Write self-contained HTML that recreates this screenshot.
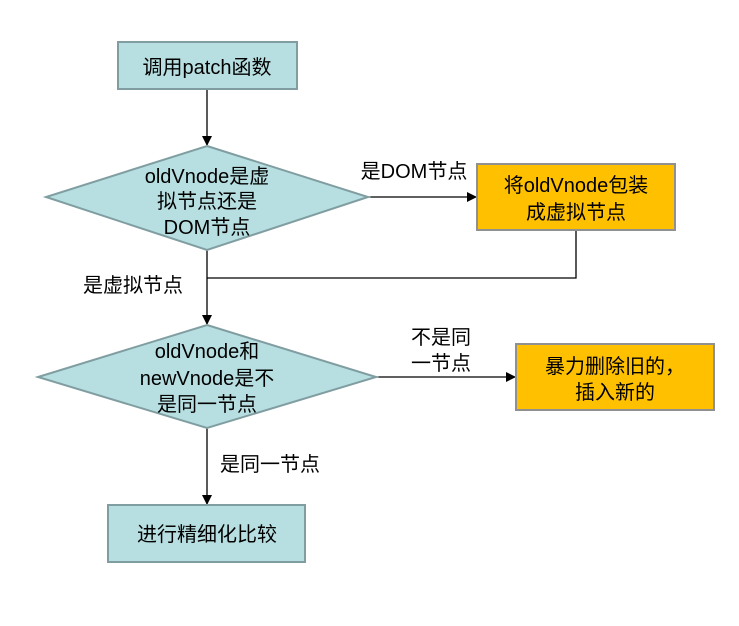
<!DOCTYPE html>
<html><head><meta charset="utf-8"><style>
body{margin:0;background:#fff;}
svg text{font-family:"Liberation Sans","Noto Sans CJK SC",sans-serif;font-size:20px;fill:#000;}
</style></head><body>
<svg width="739" height="621" viewBox="0 0 739 621" xmlns="http://www.w3.org/2000/svg">
<defs><marker id="a" markerWidth="10" markerHeight="10" refX="9" refY="5" orient="auto" markerUnits="userSpaceOnUse"><path d="M0,0 L10,5 L0,10 z" fill="#000"/></marker></defs>
<g stroke="#000" stroke-width="1.3" fill="none">
<line x1="207" y1="89" x2="207" y2="145" marker-end="url(#a)"/>
<line x1="368" y1="197" x2="476" y2="197" marker-end="url(#a)"/>
<polyline points="576,230 576,278 207,278"/>
<line x1="207" y1="250" x2="207" y2="324" marker-end="url(#a)"/>
<line x1="376" y1="377" x2="515" y2="377" marker-end="url(#a)"/>
<line x1="207" y1="428" x2="207" y2="504" marker-end="url(#a)"/>
</g>
<rect x="118" y="42" width="179" height="47" fill="#b7dfe1" stroke="#809ea1" stroke-width="2"/>
<polygon points="207,146 368,197 207,250 46,197" fill="#b7dfe1" stroke="#809ea1" stroke-width="2"/>
<rect x="477" y="164" width="198" height="66" fill="#ffc000" stroke="#909090" stroke-width="2"/>
<polygon points="207,325 376,377 207,428 38,377" fill="#b7dfe1" stroke="#809ea1" stroke-width="2"/>
<rect x="516" y="344" width="198" height="66" fill="#ffc000" stroke="#909090" stroke-width="2"/>
<rect x="108" y="505" width="197" height="57" fill="#b7dfe1" stroke="#809ea1" stroke-width="2"/>
<g text-anchor="middle">
<text x="207" y="74">调用patch函数</text>
<text x="207" y="183">oldVnode是虚</text>
<text x="207" y="208">拟节点还是</text>
<text x="207" y="234">DOM节点</text>
<text x="576" y="192">将oldVnode包装</text>
<text x="576" y="219">成虚拟节点</text>
<text x="207" y="358">oldVnode和</text>
<text x="207" y="385">newVnode是不</text>
<text x="207" y="411">是同一节点</text>
<text x="615" y="373">暴力删除旧的，</text>
<text x="615" y="399">插入新的</text>
<text x="207" y="541">进行精细化比较</text>
<text x="414" y="178">是DOM节点</text>
<text x="441" y="344">不是同</text>
<text x="441" y="370">一节点</text>
</g>
<text x="83" y="292">是虚拟节点</text>
<text x="220" y="471">是同一节点</text>
</svg>
</body></html>
